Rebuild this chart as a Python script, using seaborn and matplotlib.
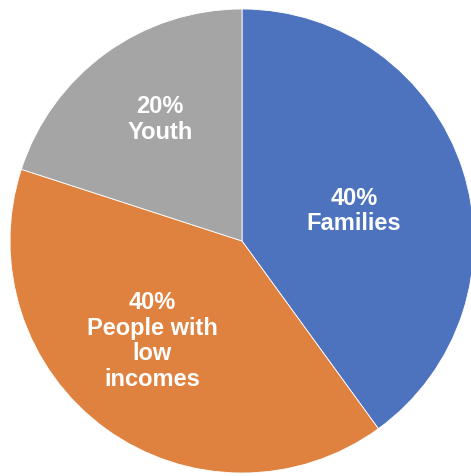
import numpy as np
import matplotlib
matplotlib.use("Agg")
import matplotlib.pyplot as plt
import seaborn as sns

categories = ["Families", "People with\nlow\nincomes", "Youth"]
shares = [40, 40, 20]
colors = ["#4D73BE", "#E0823F", "#A5A5A5"]

sns.set_theme(style="white")
plt.rcParams["font.family"] = ["Liberation Sans", "DejaVu Sans"]

fig = plt.figure(figsize=(4.71, 4.76), dpi=100)
ax = fig.add_axes([0, 0, 1, 1])
wedges, _ = ax.pie(shares, colors=colors, startangle=90, counterclock=False,
                   radius=232, center=(242, 235),
                   wedgeprops=dict(edgecolor="white", linewidth=0.6))
ax.set_xlim(0, 471)
ax.set_ylim(0, 476)
ax.set_aspect("equal")
ax.axis("off")

dists = [0.50, 0.58, 0.63]
offsets = [-3, -6, -2]
for w, cat, val, d, off in zip(wedges, categories, shares, dists, offsets):
    ang = np.deg2rad((w.theta1 + w.theta2) / 2 + off)
    x = 242 + d * 232 * np.cos(ang)
    y = 235 + d * 232 * np.sin(ang)
    ax.text(x, y, f"{val}%\n{cat}", ha="center", va="center", color="white",
            fontsize=17, fontweight="bold", linespacing=1.15)

fig.savefig("out.png", dpi=100)
